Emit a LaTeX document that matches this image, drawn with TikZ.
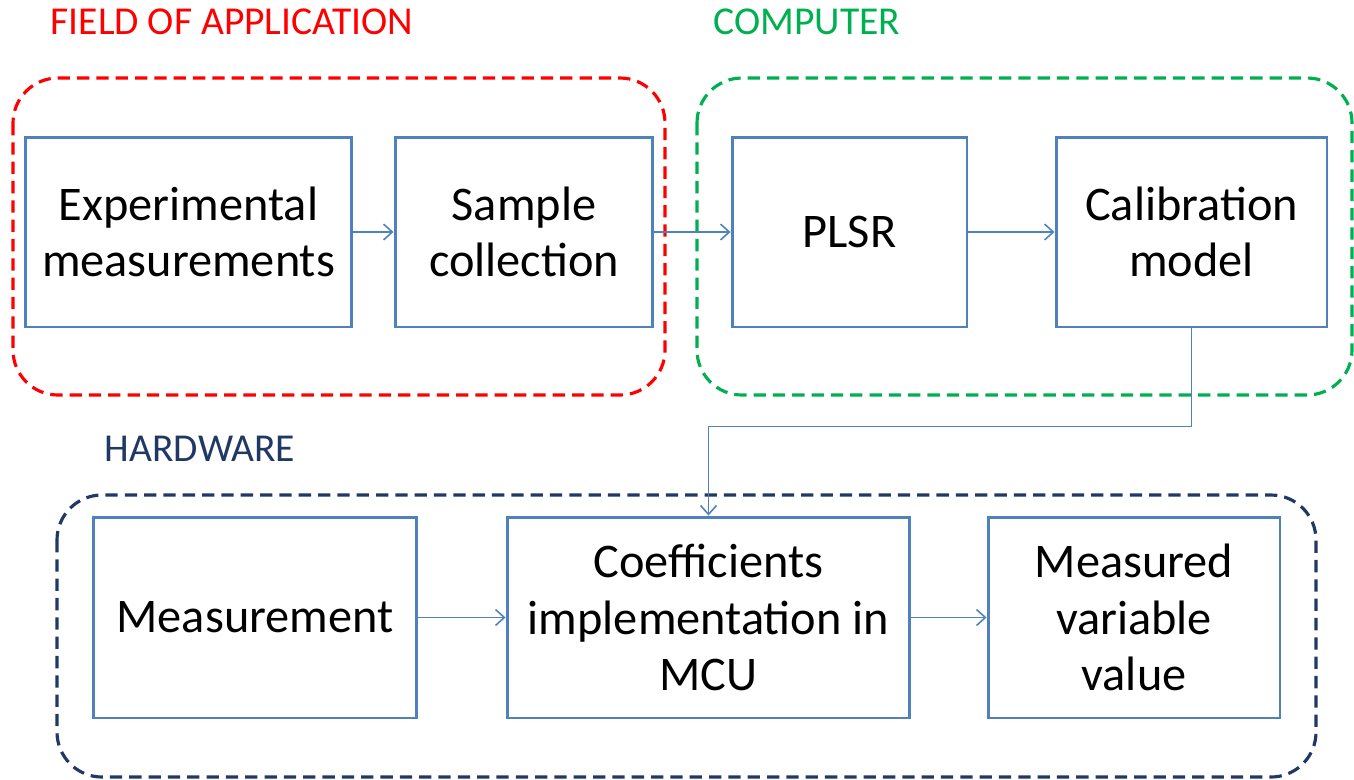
\documentclass[tikz,border=0pt]{standalone}
\usepackage{fontspec}
\setmainfont{Carlito}
\usetikzlibrary{arrows.meta,positioning}
\definecolor{boxColor}{HTML}{4F81BD}
\definecolor{fieldColor}{HTML}{FF0000}
\definecolor{compColor}{HTML}{00B050}
\definecolor{hwColor}{HTML}{1F3864}
\tikzset{
	stepbox/.style={draw=boxColor, line width=1.7pt, align=center, inner sep=0pt,
		font=\fontsize{27.5}{32}\selectfont, minimum height=3.8cm},
	group/.style={dashed, line width=1.8pt, rounded corners=0.9cm, dash pattern=on 7pt off 4pt},
	grouplab/.style={font=\fontsize{22.5}{26}\selectfont},
	flow/.style={draw=boxColor, line width=0.9pt, -{Straight Barb[length=5pt,width=9pt]}}
}

\begin{document}
\begin{tikzpicture}[x=0.02cm, y=-0.02cm]
	\useasboundingbox (0,0) rectangle (1354,779);
	% groups
	\draw[group, fieldColor] (13,78) rectangle (665,395);
	\draw[group, compColor] (697,78) rectangle (1352,395);
	\draw[group, hwColor] (57,495) rectangle (1316,777);
	\node[grouplab, text=fieldColor] (fieldlab) at (232,22) {FIELD OF APPLICATION};
	\node[grouplab, text=compColor] (complab) at (807,22) {COMPUTER};
	\node[grouplab, text=hwColor] (hwlab) at (200,449) {HARDWARE};
	% top row
	\node[stepbox, minimum width=6.54cm] (exp) at (188.5,232) {Experimental\\measurements};
	\node[stepbox, minimum width=5.16cm] (sample) at (524,232) {Sample\\collection};
	\node[stepbox, minimum width=4.7cm] (plsr) at (849.5,232) {PLSR};
	\node[stepbox, minimum width=5.42cm] (calib) at (1191.5,232) {Calibration\\model};
	% bottom row
	\node[stepbox, minimum width=6.48cm, minimum height=4.02cm] (meas) at (255,617.5) {Measurement};
	\node[stepbox, minimum width=8.06cm, minimum height=4.02cm] (coeff) at (708.5,617.5) {Coefficients\\implementation in\\MCU};
	\node[stepbox, minimum width=5.84cm, minimum height=4.02cm] (mvar) at (1134,617.5) {Measured\\variable\\value};

	\draw[flow] (exp) -- (sample);
	\draw[flow] (sample) -- (plsr);
	\draw[flow] (plsr) -- (calib);
	\draw[flow] (calib.south) -- +(0,98) -| (coeff.north);
	\draw[flow] (meas) -- (coeff);
	\draw[flow] (coeff) -- (mvar);
\end{tikzpicture}
\end{document}
